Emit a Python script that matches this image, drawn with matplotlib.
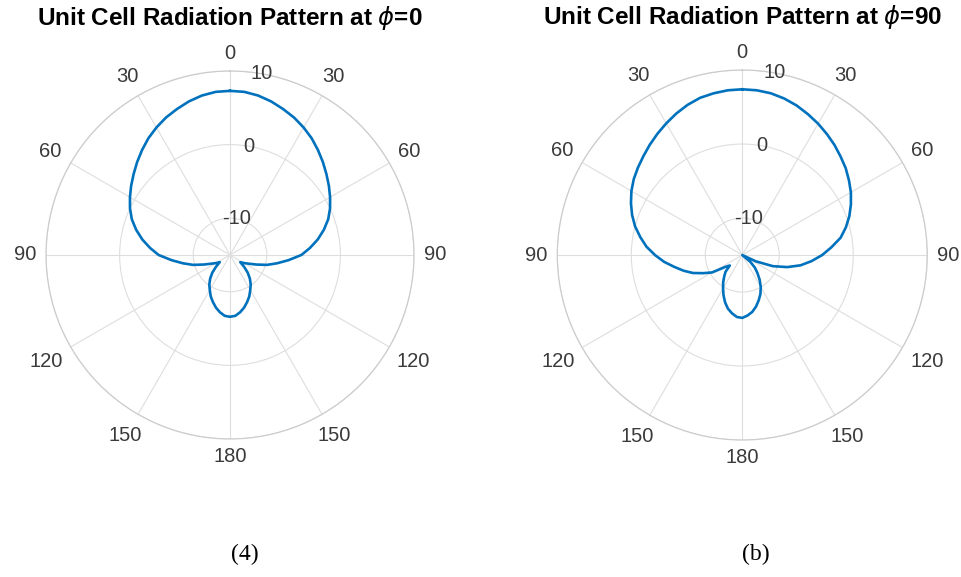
import numpy as np
import matplotlib.pyplot as plt

plt.rcParams['font.family'] = ['Liberation Sans', 'DejaVu Sans']
plt.rcParams['axes.unicode_minus'] = False

# angle in degrees, clockwise from broadside (0 = top)
theta_deg = list(range(0, 361, 5))

# gain in dB, phi = 0 cut
gain_phi0 = [7.3, 7.25, 7.0, 6.6, 6.1, 5.6, 5.0, 4.35, 3.6, 2.85,
             2.1, 1.4, 0.7, 0.0, -0.8, -1.8, -2.9, -4.1, -5.3, -7.0,
             -8.5, -9.8, -11.2, -12.2, -12.8, -13.3, -12.5, -11.6, -10.8, -10.1,
             -9.5, -8.8, -8.2, -7.6, -7.1, -6.7, -6.6,
             -6.7, -7.1, -7.6, -8.2, -8.8, -9.5, -10.1, -10.8, -11.6, -12.5,
             -13.3, -12.8, -12.2, -11.2, -9.8, -8.5, -7.0, -5.3, -4.1, -2.9,
             -1.8, -0.8, 0.0, 0.7, 1.4, 2.1, 2.85, 3.6, 4.35, 5.0,
             5.6, 6.1, 6.6, 7.0, 7.25, 7.3]

# phi = 90 cut (not symmetric)
gain_phi90 = [7.4, 7.35, 7.2, 6.9, 6.5, 6.0, 5.5, 4.95, 4.4, 3.8,
              3.25, 2.6, 1.95, 1.2, 0.4, -0.5, -1.5, -2.9, -4.2, -5.6,
              -7.0, -8.7, -10.6, -13.0, -15.0, -15.0, -13.6, -12.6, -11.8, -10.9,
              -10.0, -9.2, -8.5, -7.8, -7.2, -6.8, -6.5,
              -6.6, -7.0, -7.5, -8.2, -9.0, -9.8, -10.5, -11.2, -11.8, -12.8,
              -12.2, -10.3, -9.2, -7.9, -6.8, -5.7, -4.4, -3.2, -2.0, -1.0,
              0.0, 0.85, 1.6, 2.3, 2.9, 3.4, 3.9, 4.45, 5.0, 5.55,
              6.1, 6.6, 7.0, 7.2, 7.35, 7.4]

theta_ticks = [0, 30, 60, 90, 120, 150, 180, 210, 240, 270, 300, 330]
theta_labels = ['0', '30', '60', '90', '120', '150', '180',
                '150', '120', '90', '60', '30']
r_ticks = [-10, 0, 10]
r_min, r_max = -15, 10

titles = [r'Unit Cell Radiation Pattern at $\phi$=0',
          r'Unit Cell Radiation Pattern at $\phi$=90']
captions = ['(4)', '(b)']

fig = plt.figure(figsize=(9.61, 5.77), dpi=100)

boxes = [[0.0479, 0.2392, 0.3829, 0.6378],
         [0.5799, 0.2374, 0.3850, 0.6412]]
cap_x = [0.255, 0.787]
txt_col = '#3a3a3a'
fs = 14.5

for box, gain, title, cap, cx in zip(boxes, [gain_phi0, gain_phi90],
                                      titles, captions, cap_x):
    ax = fig.add_axes(box, projection='polar')
    ax.plot(np.deg2rad(theta_deg), gain, color='#0072BD', lw=1.9)
    ax.set_theta_zero_location('N')
    ax.set_theta_direction(-1)
    ax.set_rlim(r_min, r_max)
    ax.set_rticks(r_ticks)
    ax.set_thetagrids(theta_ticks, [''] * len(theta_ticks))
    ax.set_yticklabels([])
    ax.grid(color='#dedede', lw=0.8)
    ax.spines['polar'].set_color('#cccccc')
    ax.spines['polar'].set_linewidth(0.9)

    # angle labels: keep a fixed gap between the rim and the label box
    for t, lab in zip(theta_ticks, theta_labels):
        s, c = np.sin(np.deg2rad(t)), np.cos(np.deg2rad(t))
        half_w = 0.278 * fs * len(lab)
        half_h = 0.38 * fs
        d = 7.0 + abs(s) * half_w + abs(c) * half_h
        ax.annotate(lab, xy=(np.deg2rad(t), r_max), xytext=(d * s, d * c),
                    textcoords='offset points', ha='center', va='center',
                    fontsize=fs, color=txt_col, annotation_clip=False)
    for r in r_ticks:
        ax.text(np.deg2rad(10), r, str(r), ha='center', va='center',
                fontsize=fs, color=txt_col)

    ax.set_title(title, fontweight='bold', fontsize=17.5, y=1.125, pad=0)
    fig.text(cx, 0.03, cap, family='Liberation Serif', fontsize=17,
             ha='center')

plt.savefig('out.png', dpi=100)
